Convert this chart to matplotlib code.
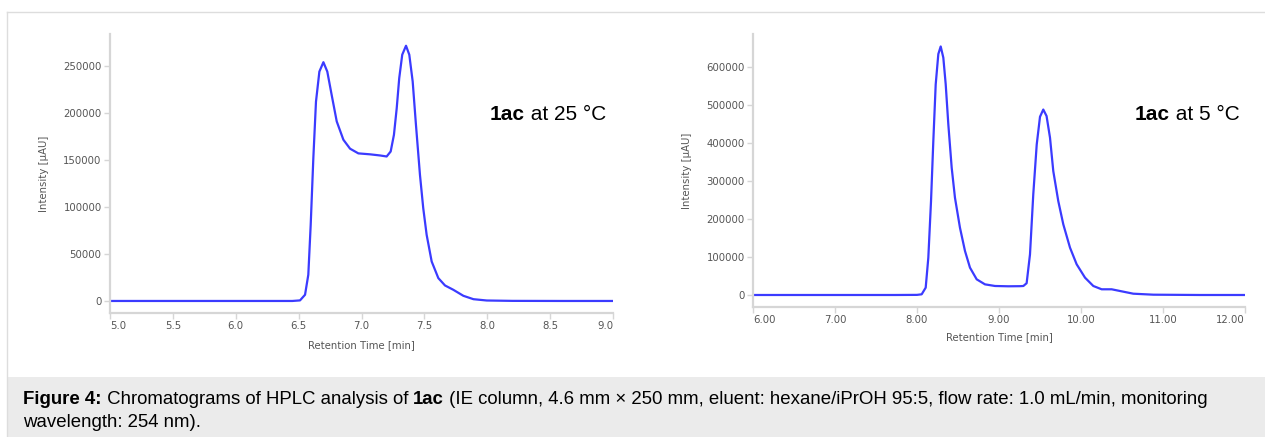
import numpy as np
import matplotlib.pyplot as plt
from matplotlib.patches import Rectangle
from matplotlib.lines import Line2D

# ---- data ----
t_25 = [5.0, 5.5, 6.0, 6.45, 6.511, 6.551, 6.577, 6.596, 6.617, 6.638, 6.665, 6.697,
        6.728, 6.763, 6.803, 6.856, 6.909, 6.975, 7.068, 7.147, 7.2, 7.232, 7.258, 7.28,
        7.3, 7.324, 7.354, 7.38, 7.407, 7.433, 7.465, 7.491, 7.518, 7.558, 7.611, 7.664,
        7.73, 7.81, 7.89, 7.996, 8.2, 8.6, 9.0]
i_25 = [0, 0, 0, 0, 600, 6600, 27900, 81000, 152000, 212000, 244000, 254000,
        244000, 219000, 191000, 171500, 162000, 157000, 156000, 154800, 153700, 159000,
        176800, 205000, 237000, 262000, 271500, 262000, 233500, 187400, 134000, 98700,
        70400, 42000, 24300, 16500, 11900, 5500, 1900, 500, 100, 0, 0]

t_5 = [6.0, 7.0, 7.732, 8.0, 8.057, 8.106, 8.138, 8.171, 8.199, 8.228, 8.26, 8.289,
       8.321, 8.35, 8.382, 8.423, 8.463, 8.524, 8.585, 8.646, 8.728, 8.829, 8.951, 9.114,
       9.256, 9.297, 9.337, 9.378, 9.418, 9.46, 9.5, 9.54, 9.58, 9.622, 9.662, 9.723,
       9.784, 9.866, 9.947, 10.049, 10.15, 10.252, 10.374, 10.476, 10.638, 10.882, 11.45,
       12.0]
i_5 = [0, 0, 0, 300, 1800, 19300, 98000, 247000, 405000, 554000, 634000, 654000,
       624500, 554500, 449000, 335000, 256000, 177000, 116000, 72000, 41200, 28000, 23700,
       22900, 23200, 23700, 31000, 107000, 265000, 396000, 469000, 488000, 471000, 414000,
       326000, 247000, 186000, 124500, 80800, 45600, 23700, 15000, 15000, 10500, 3400, 800,
       0, 0]

xticks_25 = [5.0, 5.5, 6.0, 6.5, 7.0, 7.5, 8.0, 8.5, 9.0]
yticks_25 = [0, 50000, 100000, 150000, 200000, 250000]
xticks_5 = [6.0, 7.0, 8.0, 9.0, 10.0, 11.0, 12.0]
yticks_5 = [0, 100000, 200000, 300000, 400000, 500000, 600000]

caption_1 = ("Chromatograms of HPLC analysis of ", "1ac",
             " (IE column, 4.6 mm \u00d7 250 mm, eluent: hexane/iPrOH 95:5, flow rate: 1.0 mL/min, monitoring")
caption_2 = "wavelength: 254 nm)."

W, H = 1265, 437
fig = plt.figure(figsize=(W / 100, H / 100), dpi=100)

LINE = "#3b3bff"
SPINE = "#d6d6d6"
TICKTXT = "#555555"
TICKFONT = "DejaVu Sans"


def px(x0, y0, x1, y1):
    return [x0 / W, 1 - y1 / H, (x1 - x0) / W, (y1 - y0) / H]


def style(ax, xt, xfmt, yt, xlim, ylim, ypad):
    ax.set_xlim(*xlim)
    ax.set_ylim(*ylim)
    for s in ("top", "right"):
        ax.spines[s].set_visible(False)
    for s in ("left", "bottom"):
        ax.spines[s].set_color(SPINE)
        ax.spines[s].set_linewidth(1.6)
    ax.set_xticks(xt)
    ax.set_xticklabels([xfmt.format(v) for v in xt])
    ax.set_yticks(yt)
    ax.set_yticklabels([str(v) for v in yt])
    ax.tick_params(colors=SPINE, labelcolor=TICKTXT, labelsize=7.3, length=4, width=1,
                   pad=2)
    for lab in ax.get_xticklabels() + ax.get_yticklabels():
        lab.set_family(TICKFONT)
    labs = ax.get_xticklabels()
    labs[0].set_ha("left")
    labs[-1].set_ha("right")
    ax.set_xlabel("Retention Time [min]", fontsize=7.3, color=TICKTXT, family=TICKFONT,
                  labelpad=ypad[0])
    ax.set_ylabel("Intensity [\u00b5AU]", fontsize=7.3, color=TICKTXT, family=TICKFONT,
                  labelpad=ypad[1])


ax1 = fig.add_axes(px(110, 34, 613, 313))
ax1.plot(t_25, i_25, color=LINE, lw=1.6, solid_joinstyle="round")
style(ax1, xticks_25, "{:.1f}", yticks_25, (5.0, 9.0), (-12800, 284000), (6, 10))

ax2 = fig.add_axes(px(753, 34, 1245, 307))
ax2.plot(t_5, i_5, color=LINE, lw=1.6, solid_joinstyle="round")
style(ax2, xticks_5, "{:.2f}", yticks_5, (6.0, 12.0), (-31600, 686800), (5, 10))


def label(x, y, bold, rest):
    t = fig.text(x / W, 1 - y / H, bold, fontsize=15, fontweight="bold",
                 family="Liberation Sans", va="center", ha="left")
    fig.canvas.draw()
    bb = t.get_window_extent()
    fig.text(bb.x1 / W, 1 - y / H, rest, fontsize=15, family="Liberation Sans",
             va="center", ha="left")


label(490, 115, "1ac", " at 25 \u00b0C")
label(1135, 115, "1ac", " at 5 \u00b0C")

# frame and caption band
fig.add_artist(Line2D([7 / W, 1], [1 - 12 / H] * 2, color="#dddddd", lw=1))
fig.add_artist(Line2D([7 / W] * 2, [0, 1 - 12 / H], color="#dddddd", lw=1))
fig.add_artist(Rectangle((8 / W, 0), 1, (H - 377) / H, color="#ebebeb", lw=0))


def runs(x, y, parts):
    fig.canvas.draw()
    cur = x
    for txt, bold in parts:
        t = fig.text(cur / W, 1 - y / H, txt, fontsize=13.4, family="Liberation Sans",
                     fontweight="bold" if bold else "normal", va="baseline", ha="left")
        fig.canvas.draw()
        cur = t.get_window_extent().x1


runs(23, 404, [("Figure 4:", True), (" " + caption_1[0], False), (caption_1[1], True),
               (caption_1[2], False)])
runs(23, 427, [(caption_2, False)])

fig.savefig("out.png", dpi=100)
